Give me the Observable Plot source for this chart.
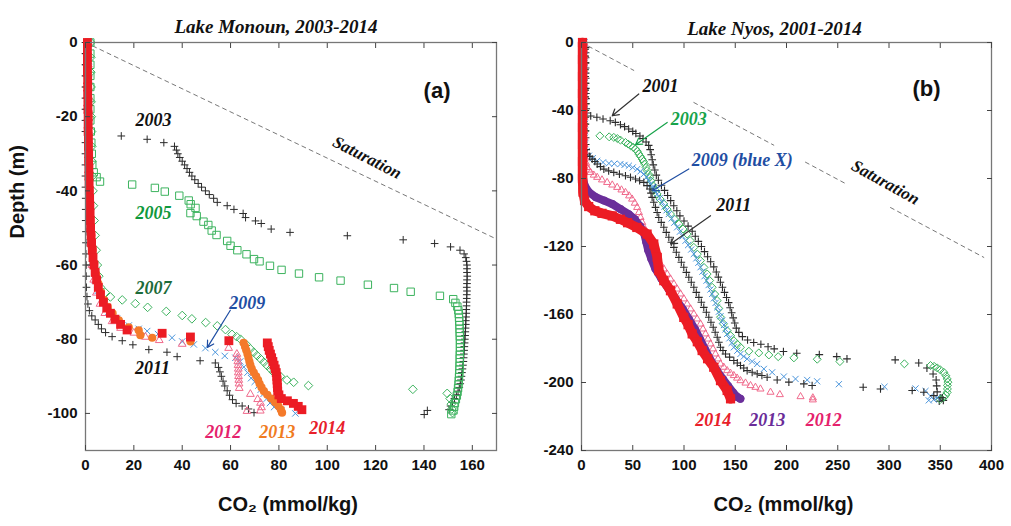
<!DOCTYPE html>
<html><head><meta charset="utf-8">
<script src="https://cdn.jsdelivr.net/npm/d3@7"></script>
<script src="https://cdn.jsdelivr.net/npm/@observablehq/plot@0.6"></script>
<style>
body{margin:0;background:#fff;}
#wrap{position:relative;width:1011px;height:526px;overflow:hidden;background:#fff;}
#a,#b{position:absolute;top:0;}
#a{left:0;} #b{left:505px;}
</style></head><body><div id="wrap"><div id="a"></div><div id="b"></div></div>
<script>
// ---------------- Lake Monoun (a) : [CO2 mmol/kg, depth m] ----------------
const monounXTicks = [0,20,40,60,80,100,120,140,160];
const monounYTicks = [0,-20,-40,-60,-80,-100];
const monounSaturation = [[0,0],[170,-53]];
const monoun2003 = [[0.3,0],[0.3,-3],[0.3,-6],[0.4,-9],[0.4,-12],[0.5,-15],[0.5,-18],[0.6,-21],[0.8,-24],
[14.8,-25.2],[25.5,-26.1],[32.4,-27],[36.8,-28],[37.6,-29],[38.2,-30],[39,-31],[40,-32],[41,-33],[42,-34],[43,-35],[44,-36],[45.2,-37],[46.6,-38],[48,-39],[49.6,-40],[51.2,-41],[53,-42],[54.5,-43.1],[58.6,-44],[61.4,-45],[65.2,-46.1],[66.2,-47.2],[70.3,-48.1],[72.7,-48.8],[76.8,-50.3],[84.6,-51.2],[108.3,-52.1],[131.4,-53.2],[144.4,-54.2],[151,-55.1],[154.9,-56],[156.6,-57],[157.3,-58],[157.6,-59],[157.8,-60],[157.8,-61],[157.8,-62],[157.9,-63],[157.8,-64],[157.8,-65],[157.7,-66],[157.8,-67],[157.7,-68],[157.7,-69],[157.6,-70],[157.6,-71],[157.5,-72],[157.5,-73],[157.4,-74],[157.3,-75],[157.3,-76],[157.2,-77],[157.1,-78],[157,-79],[156.9,-80],[156.8,-81],[156.7,-82],[156.6,-83],[156.5,-84],[156.4,-85],[156.3,-86],[156.1,-87],[155.9,-88],[155.7,-89],[155.5,-90],[155.3,-91],[155,-92],[154.6,-93],[154.1,-94],[153.4,-95],[152.6,-96],[151.8,-97],[151,-98],[150.4,-99],[141.4,-99.2],[140.1,-100.3]];
const monoun2005 = [[2,0],[2,-3],[2,-6],[2,-9],[2,-12],[2,-15],[2,-18],[2,-21],[2.2,-24],[2.4,-27],[2.6,-30],[2.8,-33],[3.4,-35],[4.6,-36.3],[6,-37.5],[19.3,-38.3],[28.7,-39.2],[32.8,-40.2],[38.8,-41.3],[42.7,-42.6],[43.5,-43.6],[45.5,-44.6],[43.4,-46],[46,-46.8],[48.8,-48.3],[50.8,-49.2],[52.2,-50.7],[54.2,-51.9],[58.6,-53.5],[60,-54.8],[62.8,-56],[66.6,-57.1],[69.7,-58.4],[72,-59],[76.3,-60.2],[81.1,-61.3],[88.3,-62.3],[96.6,-63.3],[105.5,-64.2],[116.8,-65.3],[127.6,-66.2],[134.5,-67.2],[146.6,-68.3],[152.1,-69.2],[153,-70.2],[153.8,-71.2],[154.2,-72.2],[154.4,-73.2],[154.5,-74.2],[154.6,-75.2],[154.7,-76.2],[154.7,-77.2],[154.8,-78.2],[154.8,-79.2],[154.9,-80.2],[154.9,-81.2],[154.9,-82.2],[154.9,-83.2],[154.8,-84.2],[154.8,-85.2],[154.8,-86.2],[154.7,-87.2],[154.7,-88.2],[154.6,-89.2],[154.5,-90.2],[154.4,-91.2],[154.3,-92.2],[154.1,-93.2],[153.9,-94.2],[153.6,-95.2],[153.2,-96.2],[152.8,-97.2],[152.5,-98.2],[152.2,-99.2],[151.3,-100.2]];
const monoun2007 = [[2.2,0],[2.2,-4],[2.2,-8],[2.3,-12],[2.3,-16],[2.4,-20],[2.5,-24],[2.6,-28],[2.7,-32],[2.9,-36],[3.1,-40],[3.3,-44],[3.6,-48],[4,-52],[4.4,-56],[4.9,-60],[5.5,-63],[6.2,-66],[8.2,-67.4],[10.3,-68.6],[15.2,-69.4],[20.6,-70.4],[25.7,-71.4],[33.4,-72.5],[40,-73.6],[44,-74.5],[49.7,-75.5],[54.5,-76.4],[57.9,-77.4],[60.6,-78.7],[62.5,-79.3],[64.1,-80],[66.5,-81.4],[68.2,-82.6],[69.6,-83.5],[71,-84.4],[72.4,-85.3],[73.8,-86.2],[75.1,-87.1],[76.5,-88],[77.8,-88.9],[80.6,-90],[83.3,-91],[86.1,-91.6],[92.2,-92.5],[135.4,-93.5],[149.6,-94.6],[150.8,-96],[151.3,-97.5],[151.5,-98.8],[151.8,-99.8]];
const monoun2009 = [[1.5,0],[1.5,-5],[1.5,-10],[1.5,-15],[1.6,-20],[1.6,-25],[1.7,-30],[1.8,-35],[1.9,-40],[2,-45],[2.2,-50],[2.5,-55],[3,-60],[3.8,-64],[5,-67],[7,-70],[9.5,-72.5],[13,-74.5],[17.9,-76.3],[22,-77.2],[25.5,-77.8],[30,-78.6],[35.8,-79.6],[40,-80.6],[44.8,-81.4],[49.6,-82.4],[53.7,-83.5],[57.6,-84.5],[62,-85],[64,-86],[65.5,-87.5],[67,-89],[68.5,-90.5],[70,-91.5],[71.5,-92.5],[72.5,-93.6],[73.7,-94.7],[75,-96],[76.3,-97.2],[78,-98.3],[81,-99.2],[86.8,-100]];
const monoun2011 = [[0,0],[0,-3],[0,-6],[0,-9],[0,-12],[0,-15],[0,-18],[0,-21],[0,-24],[0,-27],[0,-30],[0,-33],[0,-36],[0,-39],[0.1,-42],[0.1,-45],[0.1,-48],[0.2,-51],[0.2,-54],[0.2,-57],[0.3,-60],[0.3,-63],[0.4,-66],[0.6,-68.5],[1,-70.5],[1.6,-72.3],[2.6,-73.7],[4,-74.8],[5.3,-76],[6.6,-77.2],[8.3,-78.2],[11,-79.3],[15.2,-80.4],[19.6,-81.5],[26.2,-82.8],[33.7,-83.5],[37.9,-84.7],[47.4,-85.8],[53.7,-86.4],[55,-87.6],[55.6,-88.8],[56.2,-90],[56.9,-91.3],[57.6,-92.6],[58.6,-93.9],[59.6,-95.1],[60.8,-96.3],[62.3,-97.3],[64.8,-98],[67.4,-98.8],[69.7,-99.8]];
const monoun2012 = [[1.2,0],[1.2,-6],[1.2,-12],[1.3,-18],[1.3,-24],[1.4,-30],[1.5,-36],[1.6,-42],[1.8,-48],[2.1,-54],[2.6,-60],[3.4,-64],[4.5,-67.5],[6,-70.5],[8,-73],[11,-75.2],[14.5,-77],[20,-78.3],[24.8,-79.4],[30.5,-80.3],[40,-81.3],[59.2,-82.4],[62.6,-84],[62.8,-85],[63,-86],[63.1,-87],[63.2,-88],[63.2,-89],[63.3,-90],[63.4,-91],[63.5,-92],[63.6,-93.2],[68.2,-94.8],[71.2,-96.2],[72.4,-97.2],[72.8,-98.4],[66.8,-99.4],[72.3,-99.3]];
const monoun2013 = [[0.9,0],[0.9,-4],[0.9,-8],[1,-12],[1,-16],[1.1,-20],[1.1,-24],[1.2,-28],[1.3,-32],[1.4,-36],[1.6,-40],[1.8,-44],[2,-48],[2.4,-52],[2.9,-56],[3.6,-59.5],[4.4,-62.5],[5.3,-65],[6.3,-67.3],[7.6,-69.4],[9.2,-71.3],[11.2,-73],[13.8,-74.9],[17.9,-76.8],[22,-77.6],[22.7,-78.9],[27.6,-79.6],[43.4,-80.6],[65.4,-81],[66,-82],[66.5,-83],[67,-84],[67.4,-85],[67.8,-86],[68.2,-87],[68.8,-88],[69.6,-89],[70.6,-90],[71.4,-91],[72,-92],[72.8,-93],[73.8,-94],[75.2,-95],[76.8,-96],[78.4,-97],[79.8,-98],[80.8,-99],[81.3,-99.8]];
const monoun2014 = [[0.8,0],[0.8,-2],[0.8,-4],[0.8,-6],[0.8,-8],[0.9,-10],[0.9,-12],[0.9,-14],[1,-16],[1,-18],[1.1,-20],[1.1,-22],[1.1,-24],[1.2,-26],[1.2,-28],[1.3,-30],[1.3,-32],[1.4,-34],[1.4,-36],[1.5,-38],[1.6,-40],[1.7,-42],[1.8,-44],[1.9,-46],[2,-48],[2.1,-50],[2.3,-52],[2.5,-54],[2.8,-56],[3.1,-58],[3.5,-60],[4,-62],[4.6,-64],[5.3,-66],[6.2,-68],[7.4,-70],[8.8,-71.6],[10.3,-73],[12.2,-74.6],[14.5,-76],[17.2,-77.5],[31.7,-78.4],[43.4,-79.4],[59.3,-80.4],[75.2,-81],[75.6,-82],[76,-83],[76.5,-84],[77,-85],[77.5,-86],[78,-87],[78.5,-88],[78.9,-89],[79.1,-90],[79.2,-91],[79.3,-92],[79.4,-93],[79.5,-94],[80,-95],[81,-96],[83.5,-96.6],[86,-97.3],[88,-98.1],[89.5,-99]];

// ---------------- Lake Nyos (b) ----------------
const nyosXTicks = [0,50,100,150,200,250,300,350,400];
const nyosYTicks = [0,-40,-80,-120,-160,-200,-240];
// saturation curve, with the breaks where the original figure's label boxes hide it
const nyosSaturation = [[0,0],[51,-16.4],[NaN,NaN],[109.6,-35.3],[187.6,-60.4],[NaN,NaN],[218.5,-70.4],[259.2,-83.5],[NaN,NaN],[301.5,-97.1],[392.5,-126.4]];
const nyos2001 = [[4,0],[4,-3],[4,-6],[4,-9],[4,-12],[4,-15],[4,-18],[4.1,-21],[4.1,-24],[4.2,-27],[4.2,-30],[4.3,-33],[4.4,-36],[4.6,-39],[5,-41.5],
[9,-43.2],[15,-44],[21,-45],[28,-46],[33,-47],[38,-48.4],[42,-49.5],[46,-50.9],[50,-52.3],[53,-53.5],[57,-55],[60,-56.5],[63,-58.5],[65.5,-60.5],[67,-63],[68,-66],[69,-69],[70,-72],[71.5,-75],[73,-78],[75,-81],[78,-84],[81,-87],[84,-90],[87,-93],[90,-96],[93,-99],[96,-102],[100,-105],[104,-108],[108,-111],[111,-114],[114,-117],[117,-120],[120,-123],[123,-126],[126,-129],[129,-132],[131.5,-135],[133.5,-138],[135.5,-141],[137.5,-144],[139.5,-147],[141.5,-150],[143.5,-153],[145,-156],[146.5,-159],[148,-162],[149.5,-165],[151,-168],[153.5,-170.5],[157,-173],[162,-175],[168,-176.5],[175,-177.5],[182,-179],[188,-180.2],[197,-181.8],[210,-182.8],[232,-183.6],[249,-184.8],[259,-186.1],[306,-186.7],[329,-188.5],[337,-191.5],[343,-195],[346,-198.5],[346.5,-202],[347,-205.5],[350,-209],[353,-210.5],[349,-211]];
const nyos2003 = [[2,0],[2,-4],[2,-8],[2,-12],[2,-16],[2,-20],[2,-24],[2.1,-28],[2.1,-32],[2.2,-36],[2.3,-40],[2.4,-44],[2.6,-48],[3,-52],
[17.9,-54.9],[27,-55.5],[31.5,-55.8],[35,-56.5],[38,-57.4],[42.9,-58.8],[45.5,-59.7],[47.8,-60.7],[50.5,-61.7],[52.7,-62.7],[54.5,-64],[55.9,-65.6],[57.5,-67],[59.2,-68.6],[60.5,-70],[61.5,-71.5],[63,-73.5],[64.1,-75.4],[65.5,-77.5],[66.7,-79.3],[68,-81.5],[69.9,-84.2],[71.5,-86.5],[73.8,-89.1],[76.5,-92],[80.3,-95],[83.5,-98],[86.8,-100.9],[91,-104],[95,-106.8],[99,-109.7],[103.1,-112.7],[106,-116.5],[109.6,-120.5],[113,-124.5],[116.1,-128.3],[119.5,-132.3],[122.6,-136.2],[125,-140],[127.5,-144],[130,-148],[132.4,-151.8],[134,-156.5],[135.6,-161.6],[138.5,-165.5],[142.1,-169.5],[145.5,-172.5],[148.6,-175.4],[152,-177.5],[155.1,-179.3],[163.3,-181.6],[173,-182.6],[182.8,-183.8],[191.9,-184.8],[207.2,-185.5],[230,-186.3],[252.1,-187.7],[315,-189],[340.5,-190],[344,-190.5],[347,-191.4],[350,-192.5],[353.5,-194],[355.5,-196],[356.8,-197.9],[357.5,-199.8],[357,-201.7],[357,-203.8],[356.8,-205.8],[355.5,-207.3],[353.5,-208.7],[350,-210]];
const nyos2009 = [[3,0],[3,-4],[3,-8],[3,-12],[3,-16],[3,-20],[3,-24],[3,-28],[3.1,-32],[3.1,-36],[3.2,-40],[3.2,-44],[3.3,-48],[3.3,-52],[3.4,-56],[3.5,-60],[5,-64],
[7.2,-66.6],[11,-68],[15.3,-69.6],[21,-70.5],[26.7,-71.1],[32,-71.3],[38,-71.5],[42,-72],[46.2,-72.5],[50,-73.5],[54.3,-74.5],[57.5,-75.8],[60.8,-77.4],[63.5,-79.3],[65.7,-81.3],[67.5,-83.3],[68.9,-85.2],[71.5,-87.2],[73.8,-89.1],[76.3,-91.5],[78.7,-94],[81,-96.5],[83,-98.7],[85.2,-100.9],[88,-103.5],[90.5,-106],[93.3,-108.7],[96,-111.3],[98.7,-114],[101.5,-116.6],[104,-119.2],[107,-121.8],[109.6,-124.4],[112,-127],[114,-129.6],[116.1,-132.2],[118,-134.8],[120,-137.5],[122,-140.1],[124,-142.7],[125.8,-145.3],[127.5,-147.9],[129.2,-150.5],[130.8,-153.2],[132.4,-155.8],[134,-158.4],[135.6,-161],[137.2,-163.6],[139,-166.2],[140.5,-168.8],[142.1,-171.4],[144.3,-174],[146.5,-176.7],[148.6,-179.3],[152,-181.3],[155.1,-183.2],[158.3,-184.7],[161.6,-186.1],[166.5,-187.6],[171.4,-189.1],[177.9,-192],[186,-194],[197.4,-196.5],[208.8,-197.9],[220.2,-198.5],[229.9,-199.3],[251.1,-201],[295.6,-202.5],[325.9,-203.5],[335.6,-205],[340.5,-208],[347,-209],[338.8,-210.5],[343.7,-210]];
const nyos2011 = [[3.5,0],[3.5,-4],[3.5,-8],[3.5,-12],[3.5,-16],[3.5,-20],[3.5,-24],[3.6,-28],[3.6,-32],[3.7,-36],[3.7,-40],[3.8,-44],[3.8,-48],[3.9,-52],[4,-56],[4.1,-60],[4.5,-63],
[5.5,-65.6],[8,-67],[10.4,-68.6],[13,-70],[15.3,-71.5],[18.5,-73],[21.8,-74.5],[26.5,-75.5],[31.5,-76.4],[37,-77.4],[42.9,-78.4],[47.8,-79.3],[52.7,-80.3],[56.7,-81.3],[60.8,-82.3],[64,-84.2],[66.7,-86.2],[67.8,-88.6],[68.9,-91.1],[70.5,-94],[72.2,-97],[73.8,-100],[75.4,-102.9],[77.8,-105.8],[80.3,-108.7],[82.7,-111.7],[85.2,-114.6],[87.6,-117.5],[90.1,-120.5],[92.5,-123.4],[95,-126.4],[97.4,-129.3],[99.8,-132.2],[102.3,-135.2],[104.7,-138.1],[107.1,-141],[109.6,-144],[112,-147],[114.5,-149.9],[116.9,-152.8],[119.3,-155.8],[121.8,-158.7],[124.2,-161.6],[126.3,-164.6],[128.5,-167.5],[130.4,-170.4],[132.4,-173.4],[134,-176.3],[135.6,-179.3],[138,-181.2],[140.5,-183.2],[144.5,-185.1],[148.6,-187.1],[152,-188.5],[155.1,-190],[158.3,-191.5],[161.6,-193],[166.5,-194],[171.4,-194.9],[176,-195.9],[181.1,-196.9],[190.9,-198.5],[202.3,-199.8],[216.9,-200.8],[225,-201.8],[274.8,-202.8],[291.7,-203.8],[322.6,-204.7],[334,-205.7],[343.7,-207.7],[351.9,-209]];
const nyos2012 = [[2.5,0],[2.5,-4],[2.5,-8],[2.5,-12],[2.5,-16],[2.5,-20],[2.5,-24],[2.5,-28],[2.6,-32],[2.6,-36],[2.6,-40],[2.7,-44],[2.7,-48],[2.8,-52],[2.8,-56],[2.9,-60],[3,-64],[3.5,-68],[4.5,-71],
[5.5,-73.5],[7,-75],[8.8,-76.4],[12,-78],[15.3,-79.3],[20,-80.8],[25,-82.3],[30,-83.8],[34.8,-85.2],[39,-86.7],[42.9,-88.2],[46.5,-90.2],[49.4,-92.1],[52,-94.5],[54.3,-97],[56,-100],[57.6,-102.9],[59.2,-105.8],[60.8,-108.7],[62.5,-110.7],[64.1,-112.7],[65.7,-115.6],[67.3,-118.5],[69.8,-121.5],[72.2,-124.4],[74.7,-127.4],[77.1,-130.3],[80.3,-133.2],[83.6,-136.2],[86.8,-139.1],[90.1,-142],[93.3,-145],[96.6,-147.9],[99.9,-150.8],[103.1,-153.8],[106.4,-156.7],[109.6,-159.7],[112.8,-162.6],[116.1,-165.6],[118.5,-168.5],[121,-171.4],[123.4,-174.4],[125.9,-177.3],[128.3,-180.2],[130.7,-183.2],[133.2,-186.1],[135.6,-189.1],[138.8,-191],[142.1,-193],[145.3,-194.5],[148.6,-195.9],[151.8,-197.4],[155.1,-198.9],[160,-200.3],[164.9,-201.8],[169.7,-202.8],[174.6,-203.8],[184.4,-205.7],[193.5,-207.1],[213.7,-208.3],[225.7,-209],[225.7,-210.2]];
const nyos2013 = [[1,0],[1,-10],[1,-20],[1,-30],[1,-40],[1,-50],[1,-60],[1.2,-70],[1.5,-80],[3,-84],[7,-88],[14,-91],[22,-93],[30,-95],[38,-98],[46,-101],[52,-104],[57,-108],[61,-112],[63,-117],[65,-122],[68,-127],[72,-133],[78,-139],[85,-145],[92,-151],[99,-157],[105,-163],[111,-169],[116,-175],[121,-181],[126,-187],[132,-193],[138,-198],[143,-202],[148,-206],[152,-208.5],[155,-209.5]];
const nyos2014 = [[1,0],[1,-10],[1,-20],[1,-30],[1,-40],[1,-50],[1,-60],[1,-70],[1,-80],[1.5,-88],[3,-93],[7,-96.5],[13,-99],[20,-100.5],[30,-102],[38,-104],[45,-106],[54,-108.8],[64,-112.7],[70.5,-118.5],[73.9,-126.4],[75.4,-134.2],[80.3,-140.1],[86.8,-146],[93.4,-153.8],[99.8,-161.7],[104,-166],[108,-171.4],[113,-176],[117.7,-181.2],[123,-186],[129,-191],[135.6,-198.9],[142.1,-204.7],[145.4,-209.6]];

// ---------------- text ----------------
const titleA = "Lake Monoun, 2003-2014";
const titleB = "Lake Nyos, 2001-2014";
const yTitle = "Depth (m)";
const xTitle = "CO\u2082 (mmol/kg)";
const monounLabelText = ["2003","2005","2007","2009","2011","2012","2013","2014"];
const nyosLabelText = ["2001","2003","2009 (blue X)","2011","2014","2013","2012"];

// ---------------- annotation layout (data units) ----------------
const labelPosA = {"2003":[28.1,-21],"2005":[28.1,-46.1],"2007":[28.1,-66.3],"2009":[66.9,-70.4],"2011":[27.7,-87.9],"2012":[57,-105.1],"2013":[79.3,-105.1],"2014":[100,-104]};
const labelPosB = {"2001":[77.1,-25.5],"2003":[104.7,-45],"2009 (blue X)":[156.8,-69.1],"2011":[148.6,-96],"2014":[128.5,-222.4],"2013":[181.2,-222.4],"2012":[236.4,-222.4]};
const labelColA = {"2003":"#111","2005":"#10993d","2007":"#1d6b3a","2009":"#1f4ea3","2011":"#111","2012":"#e5226c","2013":"#f07b1f","2014":"#e8202a"};
const labelColB = {"2001":"#111","2003":"#17a34a","2009 (blue X)":"#1f4ea3","2011":"#111","2014":"#e8202a","2013":"#6a2c99","2012":"#e5226c"};
const arrowsA = [{x1:59.9,y1:-72.2,x2:50.4,y2:-82.2,c:"#1f4ea3"}];
const arrowsB = [{x1:55.9,y1:-30.3,x2:30,y2:-43.1,c:"#333"},{x1:83.6,y1:-47,x2:52.7,y2:-60.1,c:"#17a34a"},{x1:104.7,y1:-74.4,x2:69,y2:-87.2,c:"#1f4ea3"},{x1:125.9,y1:-101.9,x2:86.8,y2:-118.5,c:"#333"}];

const serif = "'Liberation Serif','Times New Roman',serif";
const sans = "'Liberation Sans',Arial,sans-serif";
const BLACK = "#2b2b2b", GREEN = "#3cb35e", BLUE = "#4a95dc", PINK = "#f06a8c", ORANGE = "#f47a2a", RED = "#ec1c24", PURPLE = "#6a2e9a";
const X = d => d[0], Y = d => d[1];

function plus(data, r, sw = 1) { return Plot.dot(data, {x:X, y:Y, symbol:"plus", r, stroke:BLACK, fill:"none", strokeWidth:sw}); }
function hollow(data, symbol, r, stroke) { return Plot.dot(data, {x:X, y:Y, symbol, r, stroke, fill:"none", strokeWidth:1}); }
function filled(data, symbol, r, fill) { return Plot.dot(data, {x:X, y:Y, symbol, r, fill, stroke:"none"}); }

function frameMarks(xTicks, yTicks) {
  const common = {label:null, stroke:"#444", fill:"none"};
  const lab = {label:null, tickSize:0, fontSize:15, fontWeight:"bold", fontFamily:sans, fill:"#111", tickFormat: d => String(d)};
  return [
    Plot.frame({stroke:"#777", strokeWidth:1.3}),
    Plot.axisX({...common, ticks:xTicks, tickSize:-5}),
    Plot.axisX({...common, ticks:xTicks, anchor:"top", tickSize:-5}),
    Plot.axisY({...common, ticks:yTicks, tickSize:-5}),
    Plot.axisY({...common, ticks:yTicks, anchor:"right", tickSize:-5}),
    Plot.axisX({...lab, ticks:xTicks, tickPadding:9}),
    Plot.axisY({...lab, ticks:yTicks, tickPadding:8})
  ];
}
function labelMarks(texts, pos, col, size) {
  return texts.map(t => Plot.text([t], {x: () => pos[t][0], y: () => pos[t][1], text: d => d, fill: col[t], fontSize: size, fontStyle:"italic", fontWeight:"bold", fontFamily:serif}));
}
function arrowMarks(arr) {
  return arr.map(a => Plot.arrow([a], {x1:"x1", y1:"y1", x2:"x2", y2:"y2", stroke:a.c, strokeWidth:1.2, headLength:9}));
}

const plotA = Plot.plot({
  width: 505, height: 526, marginLeft: 85, marginRight: 9, marginTop: 42, marginBottom: 76,
  x: {domain: [0,170]}, y: {domain: [-110,0]},
  style: {fontFamily: sans, fontWeight: "bold", background: "#fff"},
  marks: [
    Plot.line(monounSaturation, {x:X, y:Y, stroke:"#555", strokeWidth:0.8, strokeDasharray:"4,4"}),
    plus(monoun2003, 2.6),
    hollow(monoun2005, "square2", 4.7, GREEN),
    hollow(monoun2007, "diamond2", 3.9, GREEN),
    Plot.dot(monoun2009, {x:X, y:Y, symbol:"times", r:3, stroke:BLUE, strokeWidth:1}),
    plus(monoun2011, 2.6),
    hollow(monoun2012, "triangle2", 3.7, PINK),
    filled(monoun2013, "circle", 4.1, ORANGE),
    filled(monoun2014, "square", 5, RED),
    ...frameMarks(monounXTicks, monounYTicks),
    Plot.text([titleA], {text:d=>d, frameAnchor:"top", dy:-23, dx:-15, fontSize:19, fontStyle:"italic", fontWeight:"bold", fontFamily:serif, fill:"#111"}),
    Plot.text([yTitle], {text:d=>d, frameAnchor:"left", rotate:-90, dx:-68, dy:-8, fontSize:20, fontFamily:sans, fill:"#111"}),
    Plot.text([xTitle], {text:d=>d, frameAnchor:"bottom", dy:60, dx:-3, fontSize:20, fontFamily:sans, fill:"#111"}),
    Plot.text(["(a)"], {text:d=>d, frameAnchor:"top-right", dx:-46, dy:40, fontSize:22, fontFamily:sans, fill:"#111"}),
    Plot.text(["Saturation"], {x:()=>116.5, y:()=>-31, text:d=>d, rotate:27, fontSize:17, fontStyle:"italic", fontWeight:"bold", fontFamily:serif, fill:"#111"}),
    ...labelMarks(monounLabelText, labelPosA, labelColA, 18),
    ...arrowMarks(arrowsA)
  ]
});

const plotB = Plot.plot({
  width: 506, height: 526, marginLeft: 76, marginRight: 20, marginTop: 42, marginBottom: 76,
  x: {domain: [0,400]}, y: {domain: [-240,0]},
  style: {fontFamily: sans, fontWeight: "bold", background: "#fff"},
  marks: [
    Plot.line(nyosSaturation, {x:X, y:Y, stroke:"#555", strokeWidth:0.8, strokeDasharray:"4,4"}),
    plus(nyos2001, 2.6, 1.1),
    hollow(nyos2003, "diamond2", 3.6, GREEN),
    Plot.dot(nyos2009, {x:X, y:Y, symbol:"times", r:2.9, stroke:BLUE, strokeWidth:1}),
    plus(nyos2011, 2.6, 1.1),
    hollow(nyos2012, "triangle2", 3.4, PINK),
    Plot.line(nyos2013, {x:X, y:Y, stroke:PURPLE, strokeWidth:8}),
    filled(nyos2013, "circle", 4, PURPLE),
    Plot.line(nyos2014, {x:X, y:Y, stroke:RED, strokeWidth:9.5}),
    filled(nyos2014, "square", 5.2, RED),
    ...frameMarks(nyosXTicks, nyosYTicks),
    Plot.text([titleB], {text:d=>d, frameAnchor:"top", dy:-21, dx:-12, fontSize:19, fontStyle:"italic", fontWeight:"bold", fontFamily:serif, fill:"#111"}),
    Plot.text([xTitle], {text:d=>d, frameAnchor:"bottom", dy:60, dx:-3, fontSize:20, fontFamily:sans, fill:"#111"}),
    Plot.text(["(b)"], {text:d=>d, frameAnchor:"top-right", dx:-51, dy:38, fontSize:22, fontFamily:sans, fill:"#111"}),
    Plot.text(["Saturation"], {x:()=>296.6, y:()=>-82.3, text:d=>d, rotate:29, fontSize:17, fontStyle:"italic", fontWeight:"bold", fontFamily:serif, fill:"#111"}),
    ...labelMarks(nyosLabelText, labelPosB, labelColB, 18),
    ...arrowMarks(arrowsB)
  ]
});

document.getElementById("a").appendChild(plotA);
document.getElementById("b").appendChild(plotB);
</script></body></html>
